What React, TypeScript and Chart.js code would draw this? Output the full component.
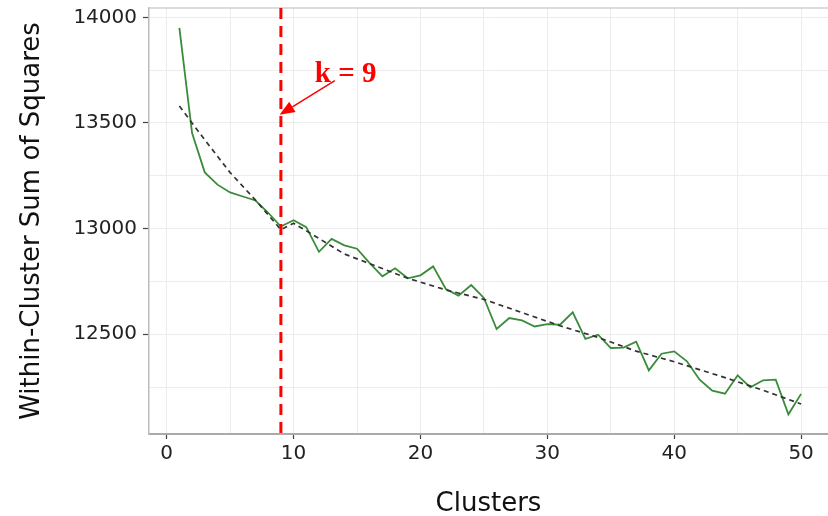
import React, { useEffect, useRef } from "react";
import { Chart, registerables } from "chart.js";

Chart.register(...registerables);

const clusters = [
  1, 2, 3, 4, 5, 6, 7, 8, 9, 10, 11, 12, 13, 14, 15, 16, 17, 18, 19, 20, 21, 22, 23, 24, 25,
  26, 27, 28, 29, 30, 31, 32, 33, 34, 35, 36, 37, 38, 39, 40, 41, 42, 43, 44, 45, 46, 47, 48, 49, 50,
];
const wcss = [
  13950, 13452, 13266, 13208, 13171, 13152, 13133, 13075, 13010, 13040,
  13007, 12890, 12951, 12921, 12905, 12837, 12774, 12812, 12765, 12779,
  12821, 12714, 12683, 12733, 12672, 12525, 12577, 12566, 12537, 12548,
  12545, 12604, 12478, 12498, 12435, 12437, 12465, 12329, 12408, 12419,
  12372, 12285, 12233, 12219, 12306, 12249, 12282, 12285, 12121, 12218,
];
const trendX = [1, 3, 5, 7, 9, 10, 11, 14, 19, 22, 25, 31, 34, 37, 40, 44, 47, 50];
const trendY = [13580, 13420, 13265, 13135, 12995, 13025, 12990, 12880, 12765, 12710, 12665, 12540, 12485, 12420, 12370, 12295, 12235, 12170];
const xGrid = [0, 5, 10, 15, 20, 25, 30, 35, 40, 45, 50];
const xLabeled = [0, 10, 20, 30, 40, 50];
const yGrid = [12250, 12500, 12750, 13000, 13250, 13500, 13750, 14000];
const yLabeled = [12500, 13000, 13500, 14000];
const K = 9;
const kLabel = "k = 9";
const xTitle = "Clusters";
const yTitle = "Within-Cluster Sum of Squares";

// annotation anchors in data coordinates
const labelAt = { x: 11.67, y: 13695 };
const arrowFrom = { x: 13.25, y: 13700 };
const arrowTo = { x: 8.9, y: 13539 };

const annotationPlugin = {
  id: "annot",
  beforeDatasetsDraw(chart: any) {
    const { ctx, chartArea } = chart;
    ctx.save();
    ctx.strokeStyle = "#d0d0d0";
    ctx.lineWidth = 1.5;
    ctx.beginPath();
    ctx.moveTo(chartArea.left, chartArea.top);
    ctx.lineTo(chartArea.right + 2, chartArea.top);
    ctx.stroke();
    ctx.restore();
  },
  afterDatasetsDraw(chart: any) {
    const { ctx, chartArea, scales } = chart;
    const xs = scales.x;
    const ys = scales.y;
    ctx.save();
    const kx = xs.getPixelForValue(K);
    ctx.strokeStyle = "#ff0000";
    ctx.lineWidth = 3;
    ctx.setLineDash([11, 7]);
    ctx.beginPath();
    ctx.moveTo(kx, chartArea.top);
    ctx.lineTo(kx, chartArea.bottom);
    ctx.stroke();
    ctx.setLineDash([]);
    const x1 = xs.getPixelForValue(arrowFrom.x);
    const y1 = ys.getPixelForValue(arrowFrom.y);
    const x2 = xs.getPixelForValue(arrowTo.x);
    const y2 = ys.getPixelForValue(arrowTo.y);
    const ang = Math.atan2(y2 - y1, x2 - x1);
    const headLen = 15;
    const headHalf = 6;
    const bx = x2 - headLen * Math.cos(ang);
    const by = y2 - headLen * Math.sin(ang);
    ctx.strokeStyle = "#ff0000";
    ctx.fillStyle = "#ff0000";
    ctx.lineWidth = 1.5;
    ctx.beginPath();
    ctx.moveTo(x1, y1);
    ctx.lineTo(bx, by);
    ctx.stroke();
    ctx.beginPath();
    ctx.moveTo(x2, y2);
    ctx.lineTo(bx + headHalf * Math.sin(ang), by - headHalf * Math.cos(ang));
    ctx.lineTo(bx - headHalf * Math.sin(ang), by + headHalf * Math.cos(ang));
    ctx.closePath();
    ctx.fill();
    ctx.font = 'bold 29px "Liberation Serif", "DejaVu Serif", serif';
    ctx.textAlign = "left";
    ctx.textBaseline = "alphabetic";
    ctx.fillText(kLabel, xs.getPixelForValue(labelAt.x), ys.getPixelForValue(labelAt.y));
    ctx.restore();
  },
};

export default function App() {
  const ref = useRef<HTMLCanvasElement>(null);
  useEffect(() => {
    if (!ref.current) return;
    const tickFont = { family: '"DejaVu Sans", sans-serif', size: 20 };
    const titleFont = { family: '"DejaVu Sans", sans-serif', size: 26 };
    const chart = new Chart(ref.current, {
      type: "line",
      data: {
        datasets: [
          {
            label: "trend",
            data: trendX.map((x, i) => ({ x, y: trendY[i] })),
            borderColor: "#333333",
            borderWidth: 1.7,
            borderDash: [5, 4],
            pointRadius: 0,
            fill: false,
            tension: 0,
          },
          {
            label: "wcss",
            data: clusters.map((x, i) => ({ x, y: wcss[i] })),
            borderColor: "#3a8c3a",
            borderWidth: 1.8,
            pointRadius: 0,
            fill: false,
            tension: 0,
          },
        ],
      },
      options: {
        responsive: false,
        animation: false,
        layout: { padding: { top: 8, left: 0, right: 0, bottom: 0 } },
        plugins: { legend: { display: false }, tooltip: { enabled: false } },
        scales: {
          x: {
            type: "linear",
            min: -1.395,
            max: 52.12,
            afterBuildTicks(scale: any) {
              scale.ticks = xGrid.map((v) => ({ value: v }));
            },
            afterFit(scale: any) {
              scale.height = 82;
              scale.paddingLeft = 0;
              scale.paddingRight = 0;
            },
            ticks: {
              autoSkip: false,
              maxRotation: 0,
              padding: 3,
              color: "#222",
              font: tickFont,
              callback: (v: any) => (xLabeled.includes(Number(v)) ? String(v) : ""),
            },
            grid: {
              color: "#ececec",
              lineWidth: 1,
              tickLength: 5,
              tickColor: (c: any) => (c.tick && xLabeled.includes(c.tick.value) ? "#444" : "rgba(0,0,0,0)"),
              tickWidth: 1.2,
            },
            border: { display: true, color: "#aaaaaa", width: 2 },
            title: {
              display: true,
              text: xTitle,
              color: "#111",
              font: titleFont,
              padding: { top: 0, bottom: -4 },
            },
          },
          y: {
            type: "linear",
            min: 12028,
            max: 14044,
            afterBuildTicks(scale: any) {
              scale.ticks = yGrid.map((v) => ({ value: v }));
            },
            afterFit(scale: any) {
              scale.width = 149;
              scale.paddingTop = 0;
              scale.paddingBottom = 0;
            },
            ticks: {
              autoSkip: false,
              padding: 6,
              color: "#222",
              font: tickFont,
              callback: (v: any) => (yLabeled.includes(Number(v)) ? String(v) : ""),
            },
            grid: {
              color: "#ececec",
              lineWidth: 1,
              tickLength: 6,
              tickColor: (c: any) => (c.tick && yLabeled.includes(c.tick.value) ? "#444" : "rgba(0,0,0,0)"),
              tickWidth: 1.2,
            },
            border: { display: true, color: "#bbbbbb", width: 1.5 },
            title: {
              display: true,
              text: yTitle,
              color: "#111",
              font: titleFont,
              padding: { top: 17, bottom: 0 },
            },
          },
        },
      },
      plugins: [annotationPlugin],
    });
    return () => chart.destroy();
  }, []);
  return (
    <div style={{ position: "absolute", left: 0, top: 0, width: 828, height: 516, background: "#fff" }}>
      <canvas ref={ref} width={828} height={516} style={{ width: 828, height: 516, display: "block" }} />
    </div>
  );
}
